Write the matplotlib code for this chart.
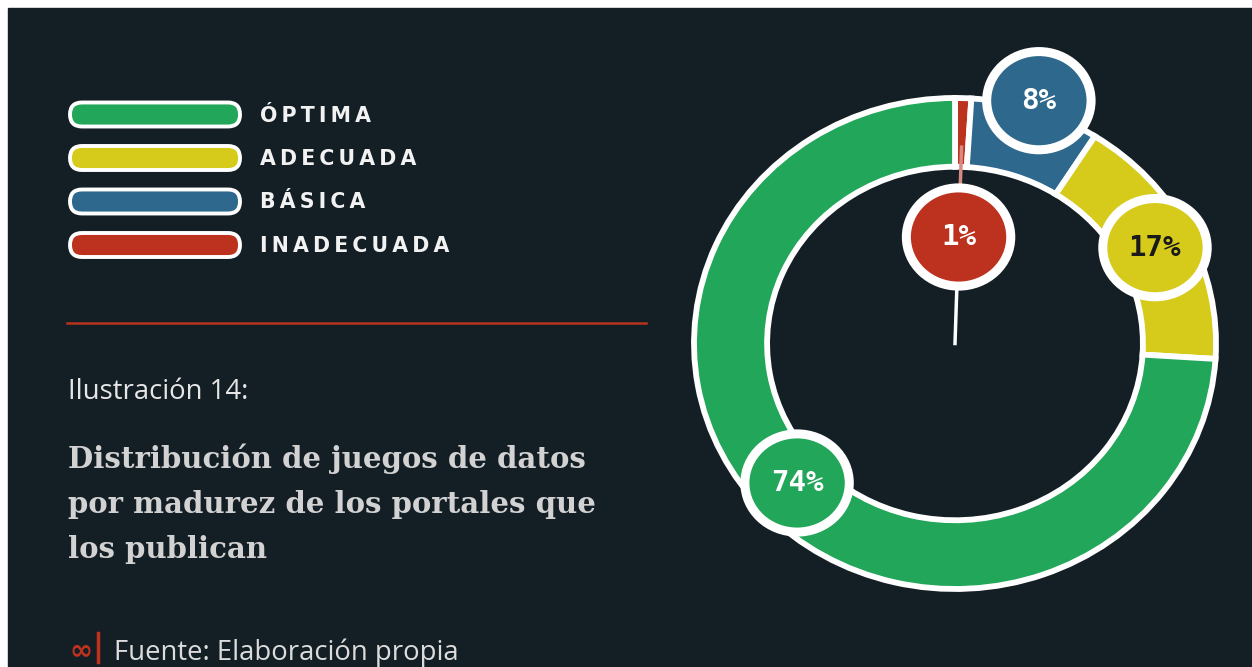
import numpy as np
import matplotlib
matplotlib.use("Agg")
import matplotlib.pyplot as plt
from matplotlib.patches import Rectangle, FancyBboxPatch, Circle

# Data
categories = ["ÓPTIMA", "ADECUADA", "BÁSICA", "INADECUADA"]
values = [74, 17, 8, 1]
pct_labels = ["74%", "17%", "8%", "1%"]
colors = ["#22a659", "#d6cb1b", "#2e688c", "#bd321e"]
text_colors = ["white", "#1a1a1a", "white", "white"]
# radial position of each value bubble (fraction of outer radius)
bubble_r = [0.83, 0.86, 1.04, 0.434]

title = "Distribución de juegos de datos\npor madurez de los portales que\nlos publican"
subtitle = "Ilustración 14:"
source = "Fuente: Elaboración propia"

BG = "#141e25"
W, H = 1252, 667
fig = plt.figure(figsize=(W / 100, H / 100), dpi=100, facecolor="white")

# background / left panel in pixel coords
bg = fig.add_axes([0, 0, 1, 1])
bg.set_xlim(0, W)
bg.set_ylim(H, 0)
bg.axis("off")
bg.add_patch(Rectangle((8, 8), W, H, color=BG, zorder=0))

sp = "\u2009"
legend_y = [114.5, 158, 201.5, 245]
for cat, col, y in zip(categories, colors, legend_y):
    bg.add_patch(FancyBboxPatch((70, y - 12), 170, 24,
                                boxstyle="round,pad=0,rounding_size=12",
                                fc=col, ec="white", lw=2.8, zorder=2))
    bg.text(260, y + 1, sp.join(cat), family="DejaVu Sans", weight="bold",
            fontsize=14.8, color="#f2f2f2", ha="left", va="center")

bg.plot([67, 646], [323, 323], color="#b8321e", lw=1.8)

bg.text(68, 399, subtitle, family="Open Sans", fontsize=19.8, color="#e6e6e6",
        ha="left", va="baseline")
bg.text(68, 443, title, family="DejaVu Serif", weight="bold", fontsize=21,
        color="#d2d2d2", ha="left", va="top", linespacing=1.7)

bg.text(69, 658, "∞", family="DejaVu Sans", weight="bold", fontsize=20,
        color="#c0321e", ha="left", va="baseline")
bg.plot([98, 98], [633, 662], color="#c0321e", lw=2.5)
bg.text(114, 660, source, family="Open Sans", fontsize=19.8, color="#dcdcdc",
        ha="left", va="baseline")

# donut: clockwise from the top, smallest first
ax = fig.add_axes([694 / W, 1 - 589 / H, 522 / W, 491 / H])
order = values[::-1]
wedges, _ = ax.pie(order, colors=colors[::-1], startangle=90, counterclock=False,
                   radius=1, wedgeprops=dict(width=0.28, edgecolor="white", linewidth=4.2))
for w in wedges:
    w.set_clip_on(False)
ax.set_aspect("auto")
ax.set_xlim(-1, 1)
ax.set_ylim(-1, 1)
ax.axis("off")

# mid angles of each category (clockwise from top)
total = sum(values)
cum = np.cumsum([0] + order)
mids = {}
for i, v in enumerate(order):
    a = (cum[i] + v / 2) / total * 2 * np.pi
    mids[len(values) - 1 - i] = a

# needle for the smallest slice
a_small = mids[3]
bx, by = bubble_r[3] * np.sin(a_small), bubble_r[3] * np.cos(a_small)
ax.plot([0, bx], [0, by], color="white", lw=2.5, zorder=3, clip_on=False)
ax.plot([bx, 0.8 * np.sin(a_small)], [by, 0.8 * np.cos(a_small)],
        color="#d98a80", lw=2.5, zorder=3, clip_on=False)

for i in range(len(values)):
    a = mids[i]
    x, y = bubble_r[i] * np.sin(a), bubble_r[i] * np.cos(a)
    ax.add_patch(Circle((x, y), 0.2, fc=colors[i], ec="white", lw=6.5,
                        zorder=4, clip_on=False))
    ax.text(x, y, pct_labels[i], family="DejaVu Sans Mono", weight="bold",
            fontsize=21, color=text_colors[i], ha="center", va="center", zorder=5)

fig.savefig("out.png", dpi=100, facecolor=fig.get_facecolor())
